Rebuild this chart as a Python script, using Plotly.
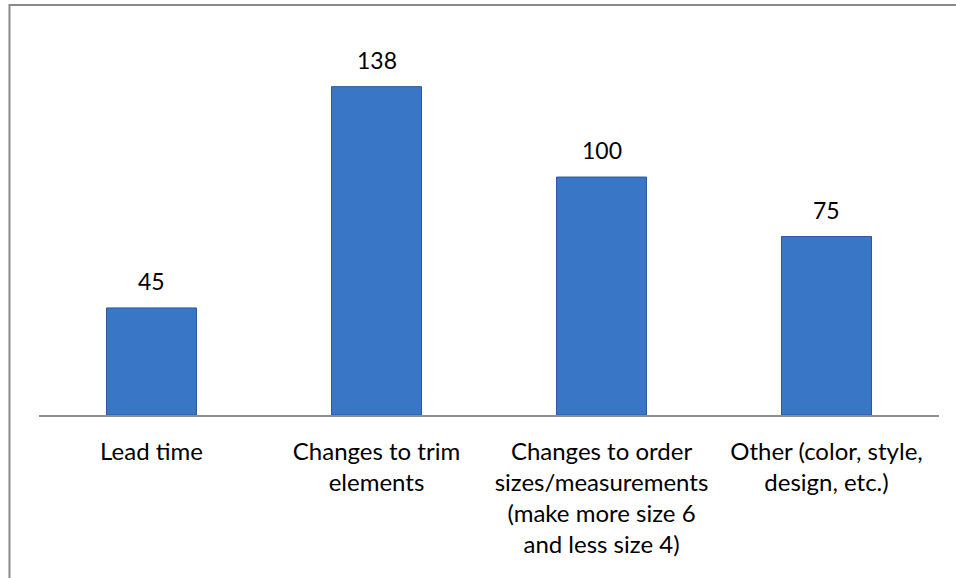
import plotly.graph_objects as go

categories = [
    "Lead time",
    "Changes to trim<br>elements",
    "Changes to order<br>sizes/measurements<br>(make more size 6<br>and less size 4)",
    "Other (color, style,<br>design, etc.)",
]
values = [45, 138, 100, 75]

FONT = "Lato, Open Sans, sans-serif"

fig = go.Figure()
fig.add_trace(go.Bar(
    x=categories, y=values, width=0.4,
    marker=dict(color="#3A76C6", line=dict(color="#2A5A9A", width=1)),
    hoverinfo="skip",
))

for c, v in zip(categories, values):
    fig.add_annotation(x=c, y=v, text=str(v), showarrow=False, yanchor="bottom",
                       yshift=11, font=dict(family=FONT, size=23, color="#000000"))

fig.add_shape(type="rect", xref="paper", yref="paper",
              x0=-0.0328, x1=1.05, y0=-0.6, y1=1.0933,
              line=dict(color="#8A8A8A", width=2), fillcolor="rgba(0,0,0,0)", layer="above")

fig.update_layout(
    width=956, height=578,
    margin=dict(l=39, r=17, t=40, b=163),
    paper_bgcolor="white", plot_bgcolor="white",
    showlegend=False,
    font=dict(family=FONT, size=23, color="#000000"),
    xaxis=dict(showline=True, linecolor="#8E8E8E", linewidth=2, ticks="",
               showgrid=False, ticklabelstandoff=14,
               tickfont=dict(family=FONT, size=24, color="#000000")),
    yaxis=dict(range=[0, 157.6], visible=False, showgrid=False, zeroline=False),
)

fig.write_html("out.html", config={"displayModeBar": False},
               post_script="document.body.style.margin='0px';")
